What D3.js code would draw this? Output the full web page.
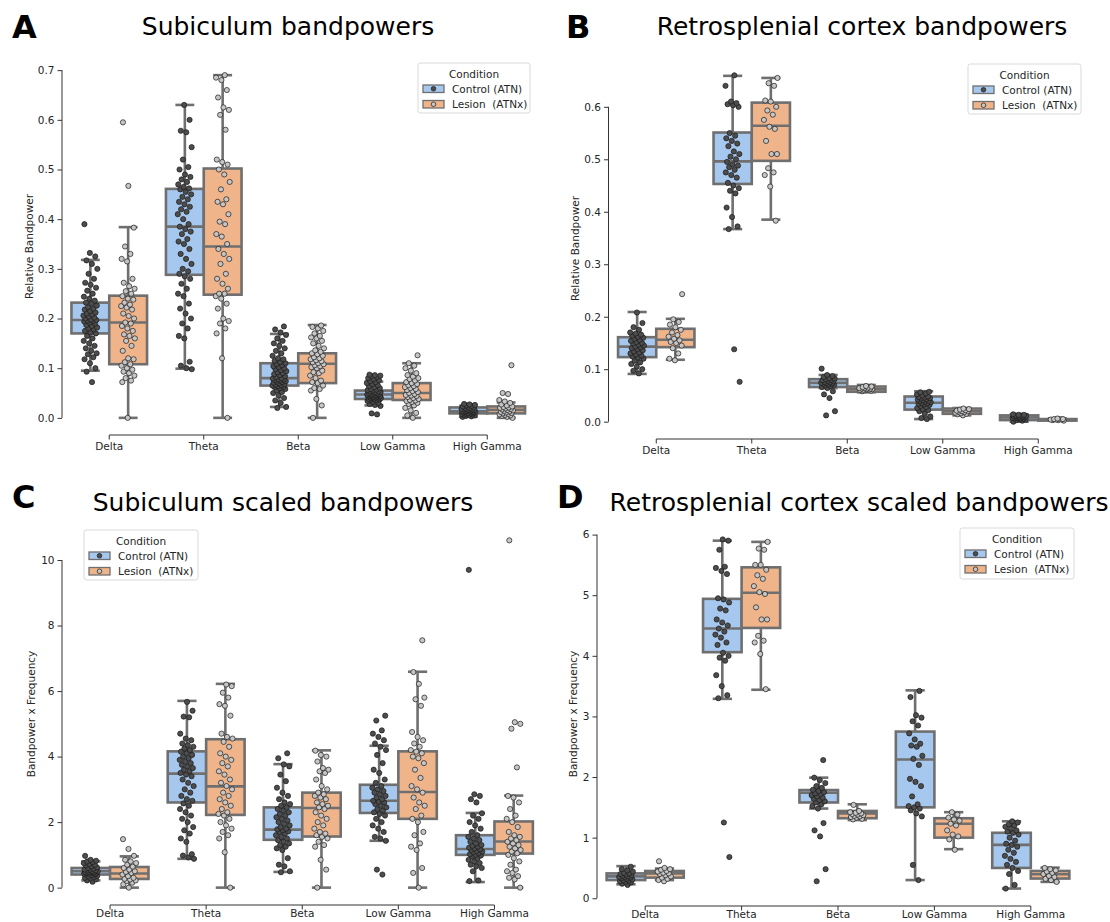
<!DOCTYPE html>
<html><head><meta charset="utf-8">
<script src="https://cdn.jsdelivr.net/npm/d3@7"></script>
<style>
body{margin:0;background:#fff;}
svg{display:block;font-family:"DejaVu Sans",sans-serif;}
</style>
</head><body>
<svg id="chart" width="1110" height="922"></svg>
<script>
const bands = ["Delta","Theta","Beta","Low Gamma","High Gamma"];
const conditions = ["Control (ATN)","Lesion  (ATNx)"];

// box stats per band: [lower whisker, q1, median, q3, upper whisker]
const boxA_ctrl = [[0.095,0.170,0.197,0.232,0.318],[0.099,0.288,0.385,0.461,0.630],[0.022,0.065,0.080,0.110,0.169],[0.025,0.038,0.047,0.055,0.073],[0.002,0.009,0.013,0.021,0.024]];
const boxA_les  = [[0.0,0.108,0.192,0.246,0.384],[0.0,0.248,0.345,0.502,0.690],[0.0,0.070,0.109,0.130,0.187],[0.0,0.036,0.050,0.070,0.110],[0.0,0.009,0.016,0.023,0.031]];
const boxB_ctrl = [[0.091,0.123,0.143,0.161,0.209],[0.367,0.453,0.496,0.551,0.659],[0.064,0.066,0.074,0.081,0.089],[0.005,0.023,0.036,0.048,0.058],[0.0,0.003,0.008,0.012,0.014]];
const boxB_les  = [[0.118,0.142,0.156,0.177,0.196],[0.385,0.497,0.564,0.608,0.655],[0.056,0.057,0.062,0.067,0.070],[0.012,0.015,0.020,0.025,0.026],[0.002,0.002,0.004,0.005,0.006]];
const boxC_ctrl = [[0.22,0.40,0.50,0.60,0.80],[0.88,2.60,3.48,4.16,5.70],[0.48,1.46,1.77,2.45,3.77],[1.43,2.28,2.65,3.14,4.33],[0.17,1.00,1.18,1.60,2.28]];
const boxC_les  = [[0.0,0.265,0.43,0.63,0.955],[0.0,2.22,3.09,4.53,6.22],[0.0,1.56,2.43,2.90,4.19],[0.0,2.10,2.92,4.16,6.59],[0.0,1.04,1.41,2.02,2.81]];
const boxD_ctrl = [[0.23,0.30,0.36,0.41,0.53],[3.29,4.06,4.45,4.94,5.90],[1.48,1.58,1.74,1.785,1.99],[0.30,1.50,2.29,2.75,3.43],[0.16,0.50,0.88,1.08,1.27]];
const boxD_les  = [[0.30,0.34,0.41,0.45,0.49],[3.44,4.46,5.04,5.46,5.88],[1.29,1.32,1.40,1.44,1.55],[0.81,1.00,1.23,1.32,1.42],[0.27,0.325,0.395,0.45,0.505]];

// individual observations (strip points), one list per band
const ptsA_ctrl = [
 [0.072,0.093,0.10,0.11,0.118,0.122,0.128,0.13,0.135,0.14,0.145,0.15,0.155,0.16,0.165,0.17,0.172,0.175,0.178,0.18,0.182,0.185,0.187,0.19,0.192,0.194,0.195,0.196,0.197,0.198,0.2,0.202,0.204,0.206,0.208,0.21,0.212,0.215,0.218,0.22,0.223,0.226,0.23,0.232,0.236,0.24,0.244,0.25,0.256,0.262,0.268,0.272,0.28,0.29,0.3,0.31,0.317,0.325,0.332,0.39],
 [0.098,0.1,0.105,0.113,0.16,0.165,0.18,0.19,0.2,0.21,0.22,0.23,0.245,0.25,0.26,0.27,0.28,0.285,0.29,0.295,0.3,0.31,0.32,0.33,0.34,0.35,0.355,0.36,0.37,0.375,0.38,0.385,0.39,0.4,0.41,0.415,0.42,0.425,0.43,0.435,0.44,0.445,0.45,0.455,0.46,0.462,0.465,0.47,0.475,0.48,0.485,0.49,0.5,0.505,0.52,0.545,0.575,0.578,0.6,0.63],
 [0.02,0.022,0.03,0.035,0.04,0.045,0.05,0.052,0.055,0.058,0.06,0.062,0.063,0.064,0.065,0.066,0.067,0.068,0.07,0.071,0.072,0.073,0.074,0.075,0.076,0.077,0.078,0.079,0.08,0.082,0.084,0.086,0.088,0.09,0.092,0.094,0.096,0.098,0.1,0.102,0.104,0.106,0.108,0.11,0.112,0.115,0.118,0.12,0.125,0.13,0.135,0.14,0.145,0.15,0.155,0.16,0.167,0.172,0.178,0.184],
 [0.007,0.009,0.024,0.026,0.028,0.03,0.032,0.034,0.035,0.036,0.037,0.038,0.038,0.039,0.04,0.04,0.041,0.041,0.042,0.042,0.043,0.043,0.044,0.044,0.045,0.045,0.046,0.046,0.047,0.047,0.048,0.048,0.049,0.05,0.05,0.051,0.052,0.052,0.053,0.054,0.055,0.056,0.057,0.058,0.06,0.062,0.064,0.066,0.068,0.07,0.072,0.074,0.076,0.078,0.08,0.082,0.084,0.085,0.086,0.087],
 [0.002,0.003,0.004,0.005,0.006,0.006,0.007,0.008,0.008,0.009,0.009,0.01,0.01,0.011,0.011,0.012,0.012,0.013,0.013,0.013,0.014,0.014,0.015,0.015,0.016,0.016,0.017,0.017,0.018,0.018,0.019,0.02,0.021,0.022,0.023,0.024,0.025,0.026,0.027,0.028]
];
const ptsA_les = [
 [0.0,0.072,0.075,0.08,0.085,0.09,0.093,0.097,0.1,0.105,0.108,0.112,0.118,0.12,0.135,0.145,0.155,0.16,0.165,0.168,0.175,0.18,0.185,0.19,0.192,0.2,0.205,0.21,0.218,0.222,0.225,0.228,0.232,0.238,0.24,0.245,0.25,0.255,0.26,0.265,0.272,0.28,0.315,0.32,0.33,0.345,0.383,0.467,0.595],
 [0.0,0.12,0.17,0.18,0.19,0.195,0.2,0.22,0.23,0.24,0.245,0.25,0.25,0.26,0.27,0.28,0.29,0.31,0.32,0.33,0.34,0.35,0.365,0.37,0.39,0.395,0.41,0.43,0.435,0.44,0.46,0.475,0.49,0.5,0.51,0.515,0.52,0.58,0.61,0.62,0.625,0.645,0.66,0.68,0.685,0.69],
 [0.0,0.025,0.038,0.055,0.058,0.06,0.065,0.07,0.072,0.075,0.08,0.085,0.09,0.092,0.095,0.1,0.102,0.104,0.106,0.108,0.11,0.112,0.114,0.116,0.118,0.12,0.122,0.125,0.128,0.13,0.133,0.136,0.14,0.145,0.15,0.155,0.16,0.162,0.165,0.17,0.175,0.18,0.183,0.186],
 [0.0,0.005,0.01,0.015,0.02,0.025,0.028,0.03,0.032,0.034,0.035,0.036,0.038,0.04,0.042,0.044,0.045,0.046,0.048,0.05,0.052,0.054,0.056,0.058,0.06,0.062,0.064,0.066,0.068,0.07,0.072,0.075,0.078,0.08,0.083,0.086,0.09,0.095,0.1,0.105,0.11,0.126],
 [0.0,0.002,0.004,0.005,0.006,0.007,0.008,0.009,0.01,0.011,0.012,0.013,0.014,0.015,0.016,0.017,0.018,0.019,0.02,0.021,0.022,0.023,0.025,0.027,0.03,0.033,0.036,0.048,0.05,0.106]
];
const ptsB_ctrl = [
 [0.092,0.097,0.1,0.105,0.11,0.113,0.116,0.12,0.122,0.124,0.126,0.128,0.13,0.132,0.134,0.136,0.138,0.14,0.142,0.143,0.145,0.147,0.149,0.15,0.152,0.154,0.156,0.158,0.16,0.162,0.164,0.166,0.168,0.17,0.175,0.18,0.188,0.208],
 [0.076,0.138,0.367,0.372,0.39,0.408,0.435,0.44,0.445,0.45,0.455,0.465,0.47,0.475,0.48,0.485,0.488,0.49,0.495,0.5,0.505,0.51,0.515,0.525,0.53,0.535,0.54,0.545,0.55,0.6,0.603,0.605,0.607,0.61,0.64,0.66],
 [0.012,0.02,0.045,0.052,0.058,0.064,0.066,0.068,0.069,0.07,0.071,0.072,0.073,0.074,0.074,0.075,0.076,0.077,0.078,0.079,0.08,0.081,0.082,0.083,0.085,0.087,0.089,0.101],
 [0.005,0.007,0.01,0.015,0.02,0.022,0.024,0.026,0.028,0.03,0.032,0.033,0.034,0.035,0.036,0.037,0.038,0.039,0.04,0.041,0.042,0.043,0.044,0.045,0.046,0.047,0.048,0.05,0.052,0.054,0.056,0.057],
 [0.0,0.002,0.003,0.004,0.005,0.006,0.006,0.007,0.007,0.008,0.008,0.009,0.009,0.01,0.01,0.011,0.011,0.012,0.012,0.013,0.013,0.014]
];
const ptsB_les = [
 [0.117,0.12,0.13,0.14,0.145,0.15,0.152,0.155,0.158,0.162,0.165,0.17,0.175,0.18,0.185,0.19,0.195,0.243],
 [0.383,0.448,0.47,0.475,0.483,0.51,0.51,0.535,0.558,0.562,0.575,0.585,0.593,0.6,0.61,0.612,0.64,0.645,0.655],
 [0.058,0.059,0.06,0.06,0.061,0.061,0.062,0.062,0.063,0.063,0.064,0.064,0.065,0.066,0.067,0.068],
 [0.012,0.014,0.015,0.016,0.017,0.018,0.019,0.02,0.02,0.021,0.022,0.023,0.024,0.025],
 [0.002,0.003,0.003,0.004,0.004,0.004,0.005,0.005,0.005,0.006]
];
const ptsC_ctrl = [
 [0.18,0.22,0.25,0.28,0.3,0.32,0.34,0.36,0.38,0.4,0.41,0.42,0.43,0.44,0.45,0.46,0.47,0.47,0.48,0.49,0.5,0.51,0.52,0.53,0.55,0.56,0.58,0.6,0.62,0.65,0.68,0.7,0.72,0.75,0.78,0.8,0.82,0.85,0.97],
 [0.88,0.92,0.98,1.02,1.4,1.5,1.65,1.75,1.85,2.0,2.1,2.2,2.3,2.4,2.5,2.57,2.65,2.7,2.8,2.9,3.0,3.1,3.2,3.3,3.4,3.45,3.5,3.55,3.6,3.65,3.7,3.75,3.8,3.85,3.9,3.95,4.0,4.05,4.1,4.15,4.2,4.25,4.3,4.35,4.4,4.5,4.55,4.7,5.2,5.22,5.4,5.67],
 [0.47,0.5,0.65,0.7,0.9,1.15,1.2,1.25,1.3,1.35,1.4,1.45,1.5,1.55,1.6,1.65,1.7,1.72,1.75,1.78,1.8,1.85,1.9,1.95,2.0,2.05,2.1,2.15,2.2,2.25,2.3,2.35,2.4,2.45,2.5,2.55,2.6,2.7,2.8,2.9,3.05,3.25,3.45,3.7,3.76,3.95,4.1],
 [0.4,0.55,1.43,1.5,1.55,1.7,1.8,1.9,2.0,2.1,2.2,2.25,2.3,2.35,2.4,2.45,2.5,2.55,2.6,2.62,2.65,2.7,2.75,2.8,2.85,2.9,2.95,3.0,3.05,3.1,3.2,3.3,3.5,3.6,3.8,4.05,4.2,4.3,4.4,4.5,4.6,4.7,4.8,5.1,5.25],
 [0.2,0.22,0.5,0.6,0.65,0.7,0.75,0.8,0.85,0.9,0.95,0.98,1.0,1.02,1.05,1.08,1.1,1.12,1.15,1.17,1.2,1.22,1.25,1.28,1.3,1.35,1.4,1.45,1.5,1.55,1.6,1.7,1.8,1.9,2.0,2.1,2.2,2.27,2.6,2.7,2.8,2.85,9.7]
];
const ptsC_les = [
 [0.0,0.1,0.15,0.2,0.22,0.25,0.27,0.3,0.35,0.4,0.45,0.48,0.5,0.55,0.6,0.64,0.7,0.75,0.8,0.85,0.97,1.18,1.48],
 [0.0,1.08,1.5,1.6,1.7,1.8,1.9,2.0,2.1,2.2,2.25,2.3,2.4,2.5,2.6,2.7,2.8,2.9,3.0,3.1,3.2,3.3,3.45,3.55,3.7,3.8,3.9,4.0,4.1,4.3,4.45,4.55,4.6,4.7,5.25,5.55,5.6,5.8,5.95,6.15,6.2],
 [0.0,0.55,0.85,1.25,1.3,1.4,1.5,1.55,1.6,1.65,1.7,1.8,1.9,2.0,2.1,2.2,2.3,2.4,2.45,2.5,2.55,2.6,2.7,2.75,2.8,2.85,2.9,3.0,3.1,3.3,3.5,3.55,3.6,3.65,3.85,4.0,4.05,4.18],
 [0.0,0.45,0.6,1.15,1.25,1.35,1.6,1.7,2.0,2.1,2.2,2.4,2.5,2.6,2.75,2.9,3.0,3.1,3.35,3.6,3.8,3.95,4.0,4.1,4.15,4.2,4.3,4.4,4.5,4.6,4.75,5.55,5.75,5.8,6.22,6.58,7.55],
 [0.0,0.25,0.3,0.35,0.45,0.5,0.55,0.7,0.8,0.9,1.0,1.05,1.1,1.15,1.2,1.25,1.3,1.35,1.4,1.45,1.5,1.55,1.6,1.7,1.85,2.0,2.1,2.2,2.4,2.6,2.75,2.8,3.67,4.85,5.0,5.05,10.6]
];
const ptsD_ctrl = [
 [0.22,0.24,0.26,0.27,0.28,0.29,0.3,0.31,0.32,0.33,0.34,0.35,0.35,0.36,0.37,0.38,0.39,0.4,0.41,0.42,0.44,0.46,0.48,0.52],
 [0.68,1.25,3.3,3.35,3.5,3.68,3.92,3.97,4.0,4.05,4.18,4.22,4.3,4.35,4.4,4.45,4.5,4.55,4.6,4.75,4.78,4.88,4.93,4.95,5.35,5.4,5.45,5.47,5.75,5.9,5.92],
 [0.28,0.48,1.02,1.12,1.24,1.48,1.52,1.55,1.58,1.6,1.62,1.64,1.66,1.68,1.7,1.72,1.73,1.75,1.77,1.79,1.82,1.85,1.9,1.95,1.99,2.28],
 [0.3,0.55,1.35,1.4,1.45,1.48,1.5,1.52,1.55,1.68,1.85,1.92,1.97,2.2,2.3,2.35,2.5,2.52,2.55,2.62,2.72,2.85,2.92,2.98,3.02,3.32,3.42],
 [0.16,0.22,0.4,0.45,0.5,0.55,0.6,0.65,0.7,0.75,0.8,0.85,0.88,0.9,0.95,1.0,1.05,1.08,1.1,1.12,1.15,1.18,1.2,1.22,1.25,1.27]
];
const ptsD_les = [
 [0.28,0.3,0.32,0.34,0.36,0.38,0.4,0.41,0.42,0.44,0.45,0.47,0.48,0.5,0.61],
 [3.45,4.03,4.22,4.25,4.33,4.6,4.6,4.8,5.02,5.05,5.15,5.27,5.33,5.42,5.5,5.5,5.75,5.77,5.88],
 [1.3,1.31,1.33,1.34,1.35,1.36,1.37,1.38,1.39,1.4,1.41,1.42,1.44,1.54],
 [0.8,0.97,1.02,1.05,1.12,1.2,1.23,1.28,1.3,1.33,1.38,1.42],
 [0.27,0.3,0.32,0.35,0.37,0.4,0.42,0.44,0.46,0.48,0.5]
];

const yTicksA = [0,0.1,0.2,0.3,0.4,0.5,0.6,0.7];
const yTicksB = [0,0.1,0.2,0.3,0.4,0.5,0.6];
const yTicksC = [0,2,4,6,8,10];
const yTicksD = [0,1,2,3,4,5,6];

// ---------- styles & layout ----------
const boxFill = {ctrl:"#a7c8ee", les:"#f0b48b"};
const ptFill = {ctrl:"#4d4d4d", les:"#c6c6c6"};
const edge = "#6f6f6f";
const inkText = "#262626";

const panels = [
 {letter:"A", title:"Subiculum bandpowers", ylabel:"Relative Bandpower", ticks:yTicksA, fmt:".1f",
  box:{ctrl:boxA_ctrl, les:boxA_les}, pts:{ctrl:ptsA_ctrl, les:ptsA_les},
  L:{left:62, right:534.5, top:58, bottom:435, titleX:288, titleY:35, letterX:12, letterY:38, ylabX:29, xPad:3,
     legend:{x:418, y:63, w:112, h:50}}},
 {letter:"B", title:"Retrosplenial cortex bandpowers", ylabel:"Relative Bandpower", ticks:yTicksB, fmt:".1f",
  box:{ctrl:boxB_ctrl, les:boxB_les}, pts:{ctrl:ptsB_ctrl, les:ptsB_les},
  L:{left:608.5, right:1086, top:58, bottom:439, titleX:862, titleY:35, letterX:566, letterY:38, ylabX:575, xPad:3,
     legend:{x:968, y:64, w:113, h:50}}},
 {letter:"C", title:"Subiculum scaled bandpowers", ylabel:"Bandpower x Frequency", ticks:yTicksC, fmt:"d",
  box:{ctrl:boxC_ctrl, les:boxC_les}, pts:{ctrl:ptsC_ctrl, les:ptsC_les},
  L:{left:62, right:542.5, top:523, bottom:905, titleX:283, titleY:511, letterX:12, letterY:508, ylabX:31, xPad:0.5,
     legend:{x:84, y:530, w:114, h:50}}},
 {letter:"D", title:"Retrosplenial cortex scaled bandpowers", ylabel:"Bandpower x Frequency", ticks:yTicksD, fmt:"d",
  box:{ctrl:boxD_ctrl, les:boxD_les}, pts:{ctrl:ptsD_ctrl, les:ptsD_les},
  L:{left:597, right:1079, top:522, bottom:906, titleX:859, titleY:511, letterX:557, letterY:508, ylabX:573, xPad:0,
     legend:{x:960, y:528, w:114, h:51}}}
];

const svg = d3.select("#chart");

function jitter(i, k){ // deterministic spread in [-1,1]
  const f = ((i+1) * 0.6180339887 + k * 0.37) % 1;
  return f*2 - 1;
}

panels.forEach(p => {
  const L = p.L;
  const g = svg.append("g");
  const all = [p.box.ctrl, p.box.les, p.pts.ctrl, p.pts.les].flat(2);
  const [mn, mx] = d3.extent(all);
  const pad = (mx - mn) * 0.05;
  const y = d3.scaleLinear().domain([mn - pad, mx + pad]).range([L.bottom, L.top]);
  const x = d3.scaleBand().domain(bands).range([L.left, L.right]).padding(0);
  const bw = x.bandwidth();
  const hue = d3.scaleBand().domain(["ctrl","les"]).range([0.1*bw, 0.9*bw]).padding(0);
  const boxW = hue.bandwidth();

  // boxes
  ["ctrl","les"].forEach(c => {
    p.box[c].forEach((s, bi) => {
      const cx = x(bands[bi]) + hue(c) + boxW/2;
      const [wl, q1, md, q3, wh] = s;
      const bg = g.append("g");
      const capW = boxW*0.5;
      bg.append("line").attr("x1",cx).attr("x2",cx).attr("y1",y(q3)).attr("y2",y(wh))
        .attr("stroke",edge).attr("stroke-width",2.6);
      bg.append("line").attr("x1",cx).attr("x2",cx).attr("y1",y(q1)).attr("y2",y(wl))
        .attr("stroke",edge).attr("stroke-width",2.6);
      [wl, wh].forEach(v => bg.append("line").attr("x1",cx-capW/2).attr("x2",cx+capW/2)
        .attr("y1",y(v)).attr("y2",y(v)).attr("stroke",edge).attr("stroke-width",2.6));
      bg.append("rect").attr("x",cx-boxW/2).attr("width",boxW)
        .attr("y",y(q3)).attr("height",Math.max(0.5,y(q1)-y(q3)))
        .attr("fill",boxFill[c]).attr("stroke",edge).attr("stroke-width",2.6);
      bg.append("line").attr("x1",cx-boxW/2).attr("x2",cx+boxW/2).attr("y1",y(md)).attr("y2",y(md))
        .attr("stroke",edge).attr("stroke-width",2.6);
    });
  });

  // strip points
  ["ctrl","les"].forEach((c, ci) => {
    p.pts[c].forEach((vals, bi) => {
      const cx = x(bands[bi]) + hue(c) + boxW/2;
      g.append("g").selectAll("circle").data(vals).join("circle")
        .attr("cx",(d,i) => cx + jitter(i, bi + ci*5) * bw*0.075)
        .attr("cy",d => y(d)).attr("r",2.6)
        .attr("fill",ptFill[c]).attr("stroke","#1a1a1a").attr("stroke-width",0.7);
    });
  });

  // y axis
  const ya = g.append("g").attr("transform",`translate(${L.left},0)`)
    .call(d3.axisLeft(y).tickValues(p.ticks).tickFormat(d3.format(p.fmt)).tickSize(4.5).tickPadding(3));
  ya.select(".domain").remove();
  ya.selectAll(".tick line").attr("stroke","#333").attr("stroke-width",1);
  ya.selectAll("text").attr("fill",inkText).attr("font-size","10.5px").attr("font-family","DejaVu Sans");
  g.append("line").attr("x1",L.left).attr("x2",L.left)
    .attr("y1",y(p.ticks[0])).attr("y2",y(p.ticks[p.ticks.length-1]))
    .attr("stroke","#333").attr("stroke-width",1);

  // x axis
  const xa = g.append("g").attr("transform",`translate(0,${L.bottom})`)
    .call(d3.axisBottom(x).tickSize(4.5).tickPadding(L.xPad));
  xa.select(".domain").remove();
  xa.selectAll(".tick line").attr("stroke","#333").attr("stroke-width",1);
  xa.selectAll("text").attr("fill",inkText).attr("font-size","10.5px").attr("font-family","DejaVu Sans");
  g.append("line").attr("y1",L.bottom).attr("y2",L.bottom)
    .attr("x1",x(bands[0])+bw/2).attr("x2",x(bands[bands.length-1])+bw/2)
    .attr("stroke","#333").attr("stroke-width",1);

  // y label
  g.append("text").attr("transform",`translate(${L.ylabX},${(L.top+L.bottom)/2}) rotate(-90)`)
    .attr("text-anchor","middle").attr("dominant-baseline","central")
    .attr("font-size","10.5px").attr("fill",inkText).text(p.ylabel);

  // title & letter
  g.append("text").attr("x",L.titleX).attr("y",L.titleY).attr("text-anchor","middle")
    .attr("font-size","25px").attr("fill","#000").text(p.title);
  g.append("text").attr("x",L.letterX).attr("y",L.letterY)
    .attr("font-size","32px").attr("font-weight","bold").attr("fill","#000").text(p.letter);

  // legend
  const lg = L.legend;
  const leg = g.append("g").attr("transform",`translate(${lg.x},${lg.y})`);
  leg.append("rect").attr("width",lg.w).attr("height",lg.h).attr("rx",2.5)
    .attr("fill","#fff").attr("fill-opacity",0.85).attr("stroke","#d9d9d9").attr("stroke-width",1);
  leg.append("text").attr("x",lg.w/2).attr("y",14.5).attr("text-anchor","middle")
    .attr("font-size","10.5px").attr("fill",inkText).text("Condition");
  ["ctrl","les"].forEach((c, i) => {
    const ry = 22 + i*15.5;
    leg.append("rect").attr("x",5).attr("y",ry).attr("width",21).attr("height",7.5)
      .attr("fill",boxFill[c]).attr("stroke",edge).attr("stroke-width",1.3);
    leg.append("circle").attr("cx",15.5).attr("cy",ry+3.75).attr("r",2.3)
      .attr("fill",ptFill[c]).attr("stroke","#1a1a1a").attr("stroke-width",0.7);
    leg.append("text").attr("x",34).attr("y",ry+7.5).attr("font-size","10.5px")
      .attr("fill",inkText).attr("xml:space","preserve").style("white-space","pre").text(conditions[i]);
  });
});
</script>
</body></html>
